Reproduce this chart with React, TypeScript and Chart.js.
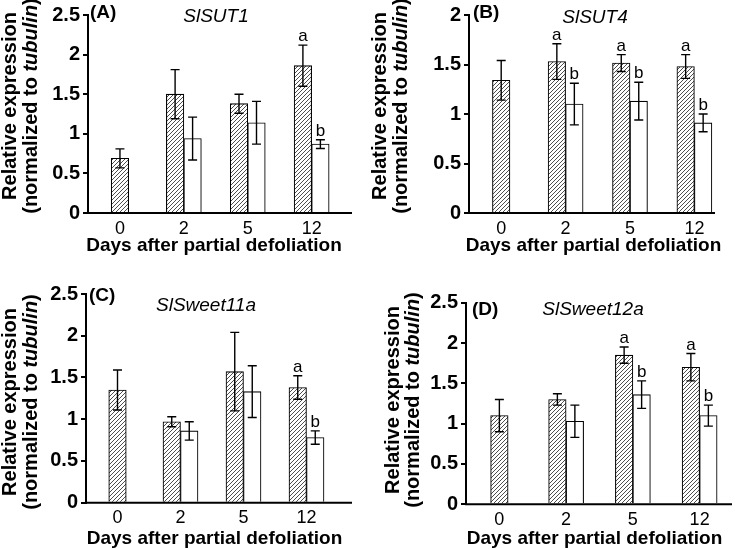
import React, { useEffect, useRef } from "react";
import { Chart, registerables } from "chart.js";

Chart.register(...registerables);

const FONT = '"Liberation Sans", Arial, Helvetica, sans-serif';

// ---------- data ----------
const categories = ["0", "2", "5", "12"];
const xAxisTitle = "Days after partial defoliation";
const yTitleLine1 = "Relative expression";
const yTitleLine2Pre = "(normalized to ";
const yTitleLine2Italic = "tubulin";
const yTitleLine2Post = ")";

// (A) SlSUT1
const sut1Hatched = [0.69, 1.5, 1.38, 1.86];
const sut1HatchedErr = [0.12, 0.31, 0.12, 0.26];
const sut1HatchedLetters = ["", "", "", "a"];
const sut1Open = [null, 0.94, 1.14, 0.87];
const sut1OpenErr = [null, 0.27, 0.27, 0.055];
const sut1OpenLetters = ["", "", "", "b"];

// (B) SlSUT4
const sut4Hatched = [1.34, 1.53, 1.515, 1.48];
const sut4HatchedErr = [0.2, 0.18, 0.085, 0.12];
const sut4HatchedLetters = ["", "a", "a", "a"];
const sut4Open = [null, 1.1, 1.13, 0.91];
const sut4OpenErr = [null, 0.21, 0.19, 0.09];
const sut4OpenLetters = ["", "b", "b", "b"];

// (C) SlSweet11a
const sweet11Hatched = [1.35, 0.97, 1.57, 1.38];
const sweet11HatchedErr = [0.24, 0.06, 0.47, 0.14];
const sweet11HatchedLetters = ["", "", "", "a"];
const sweet11Open = [null, 0.86, 1.33, 0.78];
const sweet11OpenErr = [null, 0.11, 0.31, 0.08];
const sweet11OpenLetters = ["", "", "", "b"];

// (D) SlSweet12a
const sweet12Hatched = [1.1, 1.3, 1.85, 1.7];
const sweet12HatchedErr = [0.2, 0.07, 0.1, 0.17];
const sweet12HatchedLetters = ["", "", "a", "a"];
const sweet12Open = [null, 1.03, 1.36, 1.1];
const sweet12OpenErr = [null, 0.2, 0.17, 0.13];
const sweet12OpenLetters = ["", "", "b", "b"];

// ---------- layout ----------
const panels = [
  {
    id: "(A)", gene: "SlSUT1",
    hatched: sut1Hatched, hatchedErr: sut1HatchedErr, hatchedLetters: sut1HatchedLetters,
    open: sut1Open, openErr: sut1OpenErr, openLetters: sut1OpenLetters,
    yMax: 2.5,
    left: 0, top: 0, w: 367, h: 270,
    axisX: 88, topY: 13, bottomY: 213, catW: 63.9, xAxisEnd: 352,
    labelPos: [90, 13], genePos: [216, 17], y1X: 10, y2X: 31, yCY: 106, xTitlePos: [214, 251],
  },
  {
    id: "(B)", gene: "SlSUT4",
    hatched: sut4Hatched, hatchedErr: sut4HatchedErr, hatchedLetters: sut4HatchedLetters,
    open: sut4Open, openErr: sut4OpenErr, openLetters: sut4OpenLetters,
    yMax: 2,
    left: 367, top: 0, w: 368, h: 270,
    axisX: 102, topY: 13, bottomY: 213, catW: 64.4, xAxisEnd: 348,
    labelPos: [106, 13], genePos: [228, 18], y1X: 13, y2X: 34, yCY: 106, xTitlePos: [226.5, 251],
  },
  {
    id: "(C)", gene: "SlSweet11a",
    hatched: sweet11Hatched, hatchedErr: sweet11HatchedErr, hatchedLetters: sweet11HatchedLetters,
    open: sweet11Open, openErr: sweet11OpenErr, openLetters: sweet11OpenLetters,
    yMax: 2.5,
    left: 0, top: 270, w: 367, h: 279,
    axisX: 86, topY: 24, bottomY: 232.7, catW: 63, xAxisEnd: 352,
    labelPos: [89, 25.5], genePos: [206, 35.5], y1X: 10.5, y2X: 31.5, yCY: 132, xTitlePos: [214.5, 274],
  },
  {
    id: "(D)", gene: "SlSweet12a",
    hatched: sweet12Hatched, hatchedErr: sweet12HatchedErr, hatchedLetters: sweet12HatchedLetters,
    open: sweet12Open, openErr: sweet12OpenErr, openLetters: sweet12OpenLetters,
    yMax: 2.5,
    left: 367, top: 270, w: 368, h: 279,
    axisX: 99, topY: 32.7, bottomY: 234.3, catW: 66.75, xAxisEnd: 365,
    labelPos: [105, 39.5], genePos: [226, 39.5], y1X: 26, y2X: 46, yCY: 130, xTitlePos: [227.5, 274],
  },
];

function makeHatch(): CanvasPattern | string {
  const s = 4;
  const c = document.createElement("canvas");
  c.width = s;
  c.height = s;
  const g = c.getContext("2d");
  if (!g) return "#ccc";
  g.fillStyle = "#fff";
  g.fillRect(0, 0, s, s);
  g.strokeStyle = "#3a3a3a";
  g.lineWidth = 0.9;
  g.beginPath();
  g.moveTo(-1, s + 1);
  g.lineTo(s + 1, -1);
  g.moveTo(-1, 1);
  g.lineTo(1, -1);
  g.moveTo(s - 1, s + 1);
  g.lineTo(s + 1, s - 1);
  g.stroke();
  return g.createPattern(c, "repeat") || "#ccc";
}

function Panel({ p }: { p: any }) {
  const ref = useRef<HTMLCanvasElement | null>(null);
  useEffect(() => {
    const canvas = ref.current;
    if (!canvas) return;
    const hatch = makeHatch();

    const decor = {
      id: "decor",
      afterDatasetsDraw(chart: any) {
        const ctx = chart.ctx;
        const yScale = chart.scales.y;
        const area = chart.chartArea;
        ctx.save();
        // x axis line
        ctx.strokeStyle = "#000";
        ctx.lineWidth = 2;
        ctx.beginPath();
        ctx.moveTo(area.left - 1, area.bottom);
        ctx.lineTo(p.xAxisEnd, area.bottom);
        ctx.stroke();
        // error bars and letters
        chart.data.datasets.forEach((ds: any, di: number) => {
          const meta = chart.getDatasetMeta(di);
          meta.data.forEach((el: any, i: number) => {
            const v = ds.data[i];
            const e = ds.errors[i];
            if (v === null || v === undefined) return;
            const x = el.x;
            const yt = yScale.getPixelForValue(v + e);
            const yb = yScale.getPixelForValue(v - e);
            ctx.strokeStyle = "#000";
            ctx.lineWidth = 1.4;
            ctx.beginPath();
            ctx.moveTo(x, yt);
            ctx.lineTo(x, yb);
            ctx.moveTo(x - 4.5, yt);
            ctx.lineTo(x + 4.5, yt);
            ctx.moveTo(x - 4.5, yb);
            ctx.lineTo(x + 4.5, yb);
            ctx.stroke();
            const letter = ds.letters[i];
            if (letter) {
              ctx.fillStyle = "#000";
              ctx.font = `17px ${FONT}`;
              ctx.textAlign = "center";
              ctx.textBaseline = "alphabetic";
              ctx.fillText(letter, x, yt - 4);
            }
          });
        });
        ctx.restore();
      },
      afterDraw(chart: any) {
        const ctx = chart.ctx;
        ctx.save();
        ctx.fillStyle = "#000";
        // panel label
        ctx.font = `bold 19px ${FONT}`;
        ctx.textAlign = "left";
        ctx.textBaseline = "middle";
        ctx.fillText(p.id, p.labelPos[0], p.labelPos[1]);
        // gene name
        ctx.font = `italic 19px ${FONT}`;
        ctx.textAlign = "center";
        ctx.fillText(p.gene, p.genePos[0], p.genePos[1]);
        // x title
        ctx.font = `bold 19px ${FONT}`;
        ctx.textBaseline = "alphabetic";
        ctx.fillText(xAxisTitle, p.xTitlePos[0], p.xTitlePos[1]);
        // y title line 1
        ctx.save();
        ctx.translate(p.y1X, p.yCY);
        ctx.rotate(-Math.PI / 2);
        ctx.font = `bold 20px ${FONT}`;
        ctx.textAlign = "center";
        ctx.textBaseline = "middle";
        ctx.fillText(yTitleLine1, 0, 0);
        ctx.restore();
        // y title line 2 (mixed)
        ctx.save();
        ctx.translate(p.y2X, p.yCY);
        ctx.rotate(-Math.PI / 2);
        ctx.textBaseline = "middle";
        ctx.textAlign = "left";
        const fB = `bold 20px ${FONT}`;
        const fBI = `italic bold 20px ${FONT}`;
        ctx.font = fB;
        const w1 = ctx.measureText(yTitleLine2Pre).width;
        const w3 = ctx.measureText(yTitleLine2Post).width;
        ctx.font = fBI;
        const w2 = ctx.measureText(yTitleLine2Italic).width;
        let x0 = -(w1 + w2 + w3) / 2;
        ctx.font = fB;
        ctx.fillText(yTitleLine2Pre, x0, 0);
        x0 += w1;
        ctx.font = fBI;
        ctx.fillText(yTitleLine2Italic, x0, 0);
        x0 += w2;
        ctx.font = fB;
        ctx.fillText(yTitleLine2Post, x0, 0);
        ctx.restore();
        ctx.restore();
      },
    };

    const chart = new Chart(canvas, {
      type: "bar",
      data: {
        labels: categories,
        datasets: [
          {
            label: "hatched",
            data: p.hatched,
            errors: p.hatchedErr,
            letters: p.hatchedLetters,
            backgroundColor: hatch,
            borderColor: "#000",
            borderWidth: 1.1,
            barThickness: 17.5,
            skipNull: true,
          } as any,
          {
            label: "open",
            data: p.open,
            errors: p.openErr,
            letters: p.openLetters,
            backgroundColor: "#fff",
            borderColor: "#000",
            borderWidth: 1.1,
            barThickness: 17.5,
            skipNull: true,
          } as any,
        ],
      },
      options: {
        responsive: false,
        animation: false,
        devicePixelRatio: 1,
        layout: {
          padding: {
            left: 0,
            top: p.topY,
            right: p.w - (p.axisX + 4 * p.catW),
            bottom: 0,
          },
        },
        plugins: {
          legend: { display: false },
          tooltip: { enabled: false },
          title: { display: false },
        },
        scales: {
          x: {
            type: "category",
            offset: true,
            grid: { display: false, drawTicks: false },
            border: { display: false },
            ticks: {
              font: { family: FONT, size: 18 },
              color: "#000",
              padding: 5,
              maxRotation: 0,
              autoSkip: false,
            },
            afterFit: (s: any) => {
              s.height = p.h - p.bottomY;
            },
          },
          y: {
            min: 0,
            max: p.yMax,
            ticks: {
              stepSize: 0.5,
              font: { family: FONT, size: 20, weight: "bold" },
              color: "#000",
              padding: 3,
              callback: (v: any) => String(Number(v)),
            },
            grid: {
              drawOnChartArea: false,
              drawTicks: true,
              tickLength: 5,
              color: "#000",
              lineWidth: 2,
            },
            border: { display: true, color: "#000", width: 2 },
            afterFit: (s: any) => {
              s.width = p.axisX;
            },
          },
        },
      } as any,
      plugins: [decor],
    });
    return () => chart.destroy();
  }, [p]);

  return (
    <canvas
      ref={ref}
      width={p.w}
      height={p.h}
      style={{ position: "absolute", left: p.left, top: p.top, width: p.w, height: p.h }}
    />
  );
}

export default function App() {
  return (
    <div
      style={{
        position: "fixed",
        left: 0,
        top: 0,
        width: 735,
        height: 549,
        background: "#fff",
        overflow: "hidden",
      }}
    >
      {panels.map((p) => (
        <Panel key={p.id} p={p} />
      ))}
    </div>
  );
}
